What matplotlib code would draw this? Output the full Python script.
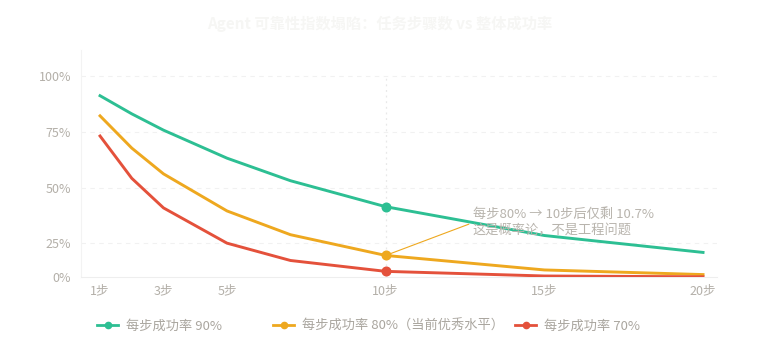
import matplotlib
matplotlib.use("Agg")
from matplotlib import pyplot as plt
from matplotlib.lines import Line2D

plt.rcParams["font.family"] = ["Noto Sans CJK SC", "DejaVu Sans"]

# ---------------------------------------------------------------------------
# Data
# ---------------------------------------------------------------------------
steps = [1, 2, 3, 5, 7, 10, 15, 20]
rate_90 = [90.0, 81.0, 72.9, 59.0, 47.8, 34.9, 20.6, 12.2]
rate_80 = [80.0, 64.0, 51.2, 32.8, 21.0, 10.7, 3.5, 1.2]
rate_70 = [70.0, 49.0, 34.3, 16.8, 8.2, 2.8, 0.5, 0.1]

series_labels = ["每步成功率 90%", "每步成功率 80%（当前优秀水平）", "每步成功率 70%"]
x_ticks = [1, 3, 5, 10, 15, 20]
x_ticklabels = ["1步", "3步", "5步", "10步", "15步", "20步"]
# the reference spaces its y gridlines evenly between 100% and the label row,
# so the grid sits at these data heights
y_ticks = [0, 16.7, 44.4, 72.2, 100]
y_ticklabels = ["0%", "25%", "50%", "75%", "100%"]

highlight_step = 10
note = "每步80% → 10步后仅剩 10.7%\n这是概率论，不是工程问题"
title = "Agent 可靠性指数塌陷：任务步骤数 vs 整体成功率"

colors = ["#2dbf93", "#eea81f", "#e4513b"]
tick_color = "#b3afa8"
grid_color = "#f1f1f1"

# ---------------------------------------------------------------------------
# Figure
# ---------------------------------------------------------------------------
fig = plt.figure(figsize=(7.6, 3.58), dpi=100)
ax = fig.add_axes([81 / 760, 1 - 277 / 358, (717 - 81) / 760, (277 - 50) / 358])

hi = steps.index(highlight_step)
for vals, c in zip([rate_90, rate_80, rate_70], colors):
    ax.plot(steps, vals, color=c, lw=2.1, marker="o", ms=6.2,
            markevery=[hi], solid_joinstyle="round", zorder=3)

ax.set_xlim(0.40, 20.44)
ax.set_ylim(0, 112.7)

ax.set_xticks(x_ticks)
ax.set_xticklabels(x_ticklabels)
ax.set_yticks(y_ticks)
ax.set_yticklabels(y_ticklabels)
ax.tick_params(axis="both", length=0, colors=tick_color, labelsize=9)
ax.tick_params(axis="x", pad=5.5)
ax.tick_params(axis="y", pad=7)

for y in y_ticks[1:]:
    ax.axhline(y, color=grid_color, lw=0.8, ls=(0, (4, 4)), zorder=1)
ax.plot([highlight_step, highlight_step], [0, 100], color="#e8e8e8",
        lw=0.9, ls=(0, (1.5, 3)), zorder=1)

for side in ["top", "right"]:
    ax.spines[side].set_visible(False)
ax.spines["left"].set_color("#f3f3f3")
ax.spines["bottom"].set_color("#eeeeee")
ax.spines["left"].set_linewidth(0.8)
ax.spines["bottom"].set_linewidth(0.8)

ax.annotate(
    note, xy=(highlight_step, rate_80[hi]), xytext=(12.75, 27.0),
    ha="left", va="center", fontsize=9.5, color="#b8b4ad", linespacing=1.4,
    arrowprops=dict(arrowstyle="-", color=colors[1], lw=0.8,
                    relpos=(0, 0.5), shrinkA=1, shrinkB=3),
    zorder=5,
)

fig.text(0.5, 1 - 24 / 358, title, ha="center", va="center",
         fontsize=11, fontweight="bold", color="#f6f6f4")

# legend: three entries placed like the reference
legend_x = [97, 273, 515]
for lbl, c, lx in zip(series_labels, colors, legend_x):
    h = Line2D([], [], color=c, lw=2.0, marker="o", ms=4.5)
    fig.legend([h], [lbl], loc="center left",
               bbox_to_anchor=(lx / 760, 1 - 326 / 358),
               frameon=False, fontsize=9.5, labelcolor="#aaa69f",
               handlelength=1.6, handletextpad=0.6, borderpad=0,
               borderaxespad=0)

fig.savefig("out.png", dpi=100)
